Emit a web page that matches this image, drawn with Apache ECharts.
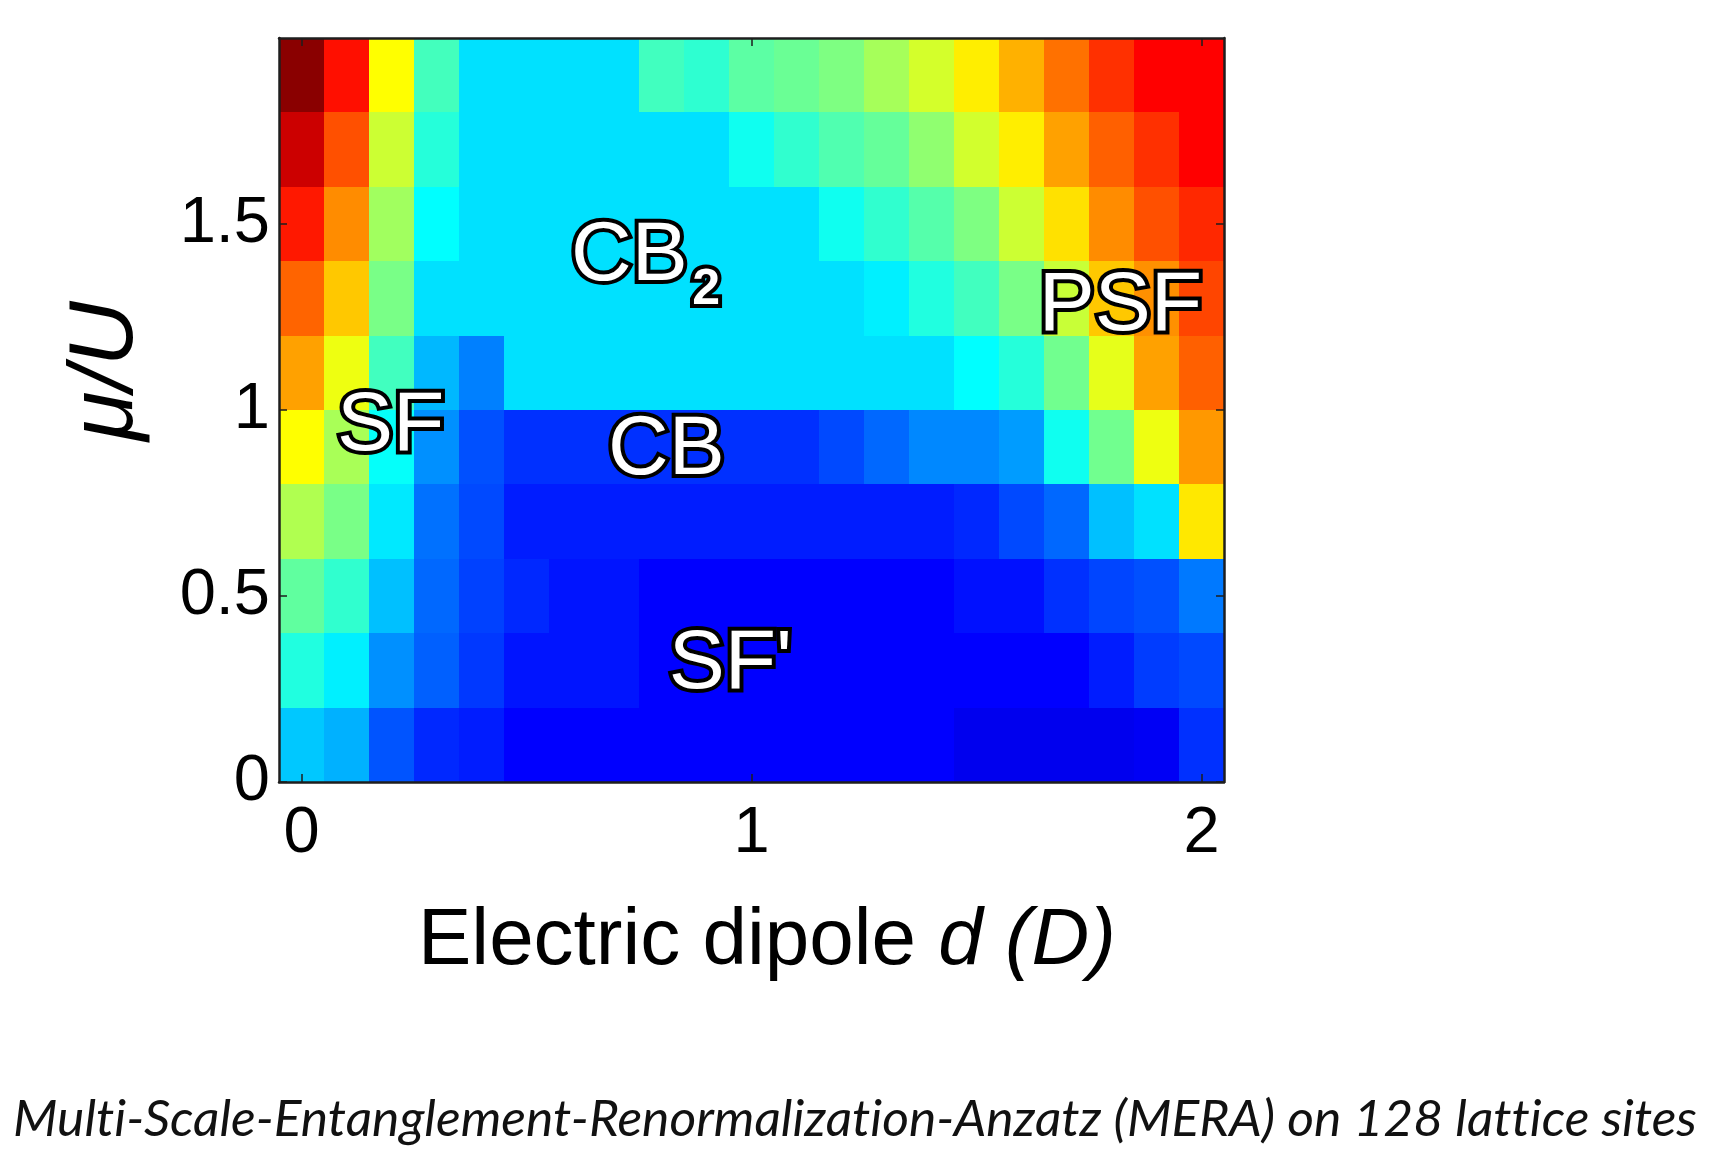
<!DOCTYPE html>
<html>
<head>
<meta charset="utf-8">
<script src="https://cdn.jsdelivr.net/npm/echarts@6/dist/echarts.min.js"></script>
<style>
  html, body { margin: 0; padding: 0; background: #ffffff; }
  #chart { width: 1714px; height: 1149px; }
</style>
</head>
<body>
<div id="chart"></div>
<script>
// Electric dipole d (D): one column per value
const dipole = [0, 0.1, 0.2, 0.3, 0.4, 0.5, 0.6, 0.7, 0.8, 0.9, 1.0,
                1.1, 1.2, 1.3, 1.4, 1.5, 1.6, 1.7, 1.8, 1.9, 2.0];
// Chemical potential μ/U at the centre of each row
const muRows = [0.1, 0.3, 0.5, 0.7, 0.9, 1.1, 1.3, 1.5, 1.7, 1.9];

// Order parameter (normalised 0..1) along d for each μ/U row
const mu01 = [0.321, 0.298, 0.207, 0.164, 0.152, 0.125, 0.125, 0.125, 0.125, 0.125, 0.125, 0.125, 0.125, 0.125, 0.125, 0.108, 0.108, 0.108, 0.108, 0.115, 0.172];
const mu03 = [0.406, 0.360, 0.266, 0.219, 0.180, 0.145, 0.145, 0.145, 0.125, 0.125, 0.125, 0.125, 0.125, 0.125, 0.125, 0.125, 0.125, 0.125, 0.152, 0.184, 0.196];
const mu05 = [0.469, 0.422, 0.313, 0.227, 0.188, 0.164, 0.145, 0.145, 0.125, 0.125, 0.125, 0.125, 0.125, 0.125, 0.125, 0.141, 0.141, 0.172, 0.192, 0.203, 0.243];
const mu07 = [0.547, 0.493, 0.353, 0.235, 0.196, 0.152, 0.152, 0.152, 0.152, 0.152, 0.152, 0.152, 0.152, 0.152, 0.152, 0.164, 0.196, 0.227, 0.313, 0.345, 0.648];
const mu09 = [0.625, 0.540, 0.380, 0.266, 0.203, 0.172, 0.172, 0.172, 0.172, 0.172, 0.172, 0.172, 0.196, 0.227, 0.258, 0.258, 0.278, 0.390, 0.485, 0.608, 0.726];
const mu11 = [0.718, 0.608, 0.438, 0.305, 0.250, 0.345, 0.345, 0.345, 0.345, 0.345, 0.345, 0.345, 0.345, 0.345, 0.345, 0.375, 0.411, 0.485, 0.600, 0.718, 0.781];
const mu13 = [0.777, 0.679, 0.493, 0.345, 0.345, 0.345, 0.345, 0.345, 0.345, 0.345, 0.345, 0.345, 0.345, 0.360, 0.406, 0.438, 0.493, 0.571, 0.679, 0.734, 0.808];
const mu15 = [0.852, 0.738, 0.532, 0.375, 0.345, 0.345, 0.345, 0.345, 0.345, 0.345, 0.345, 0.345, 0.390, 0.422, 0.458, 0.498, 0.575, 0.655, 0.738, 0.797, 0.836];
const mu17 = [0.925, 0.797, 0.575, 0.411, 0.345, 0.345, 0.345, 0.345, 0.345, 0.345, 0.390, 0.422, 0.453, 0.474, 0.516, 0.581, 0.642, 0.718, 0.781, 0.828, 0.875];
const mu19 = [0.990, 0.860, 0.625, 0.440, 0.345, 0.345, 0.345, 0.345, 0.438, 0.420, 0.465, 0.479, 0.498, 0.537, 0.583, 0.642, 0.702, 0.765, 0.828, 0.875, 0.875];
const rowValues = [mu01, mu03, mu05, mu07, mu09, mu11, mu13, mu15, mu17, mu19];

// Tick labels
const dipoleTicks = [0, 1, 2];
const muTicks = [0, 0.5, 1, 1.5];

// Phase names and where they sit in (d, μ/U)
const phaseNames = ['SF', 'CB', "SF'", 'PSF', 'CB'];
const phaseD = [0.198, 0.811, 0.953, 1.820, 0.7285];
const phaseMu = [0.956, 0.889, 0.315, 1.276, 1.412];
const subscriptText = ['2'];
const subscriptD = [0.899];
const subscriptMu = [1.322];

// Jet colour map
const jet = ['#000080', '#0000ff', '#0080ff', '#00ffff', '#80ff80',
             '#ffff00', '#ff8000', '#ff0000', '#800000'];

const cells = [];
muRows.forEach((mu, r) => {
  dipole.forEach((d, c) => cells.push([d, mu, rowValues[r][c]]));
});

const halfW = (dipole[1] - dipole[0]) / 2;
const halfH = (muRows[1] - muRows[0]) / 2;

function renderCell(params, api) {
  const d = api.value(0), mu = api.value(1);
  const a = api.coord([d - halfW, mu + halfH]);
  const b = api.coord([d + halfW, mu - halfH]);
  const x0 = Math.round(a[0]), y0 = Math.round(a[1]);
  const x1 = Math.round(b[0]), y1 = Math.round(b[1]);
  return {
    type: 'rect',
    shape: { x: x0, y: y0, width: x1 - x0, height: y1 - y0 },
    style: { fill: api.visual('color') }
  };
}

const outlinedFont = '"Liberation Sans", Arial, sans-serif';
function makeLabelRenderer(texts, font) {
  return function (params, api) {
    const p = api.coord([api.value(0), api.value(1)]);
    return {
      type: 'text',
      x: p[0], y: p[1],
      style: {
        text: texts[params.dataIndex],
        font: font,
        fill: '#ffffff',
        stroke: '#000000',
        lineWidth: 8,
        strokeFirst: true,
        align: 'center',
        verticalAlign: 'middle'
      }
    };
  };
}

// Caption; zero-width non-joiners keep "ti"/"tt" as separate letters
const captionText = 'Multi-Scale-Entanglement-Renormalization-Anzatz (MERA) on 128 lattice sites';
const captionDrawn = captionText.replace(/t(?=[it])/g, 't\u200C');
const captionFont = 'italic 50px Lato, "Open Sans", sans-serif';
const measureCtx = document.createElement('canvas').getContext('2d');
measureCtx.font = captionFont;
const captionScale = 1684 / measureCtx.measureText(captionDrawn).width;

const axisLineStyle = { color: '#1e1e1e', width: 2.5 };
const tickStyle = { color: '#1e1e1e', width: 1.5 };
const tickFont = { fontFamily: '"Liberation Sans", Arial, sans-serif', fontSize: 65, color: '#000' };

const chart = echarts.init(document.getElementById('chart'), null, { renderer: 'canvas' });
chart.setOption({
  animation: false,
  backgroundColor: '#ffffff',
  grid: { left: 279, right: 490, top: 38, bottom: 367, containLabel: false, outerBoundsMode: 'none' },
  xAxis: [
    {
      type: 'value', position: 'bottom', min: -0.05, max: 2.05, z: 10,
      axisLine: { show: true, onZero: false, lineStyle: axisLineStyle },
      axisTick: { show: true, inside: true, length: 8, customValues: dipoleTicks, lineStyle: tickStyle },
      axisLabel: Object.assign({ margin: 20, customValues: dipoleTicks, formatter: v => String(v) }, tickFont),
      splitLine: { show: false }
    },
    {
      type: 'value', position: 'top', min: -0.05, max: 2.05, z: 10,
      axisLine: { show: true, onZero: false, lineStyle: axisLineStyle },
      axisTick: { show: true, inside: true, length: 8, customValues: dipoleTicks, lineStyle: tickStyle },
      axisLabel: { show: false },
      splitLine: { show: false }
    }
  ],
  yAxis: [
    {
      type: 'value', position: 'left', min: 0, max: 2, interval: 0.5, z: 10,
      axisLine: { show: true, onZero: false, lineStyle: axisLineStyle },
      axisTick: { show: true, inside: true, length: 8, customValues: muTicks, lineStyle: tickStyle },
      axisLabel: Object.assign({ margin: 9, customValues: muTicks, formatter: v => String(v) }, tickFont),
      splitLine: { show: false }
    },
    {
      type: 'value', position: 'right', min: 0, max: 2, interval: 0.5, z: 10,
      axisLine: { show: true, onZero: false, lineStyle: axisLineStyle },
      axisTick: { show: true, inside: true, length: 8, customValues: muTicks, lineStyle: tickStyle },
      axisLabel: { show: false },
      splitLine: { show: false }
    }
  ],
  visualMap: {
    type: 'continuous', show: false, min: 0, max: 1, dimension: 2, seriesIndex: 0,
    inRange: { color: jet }
  },
  series: [
    {
      type: 'custom', name: 'order', xAxisIndex: 0, yAxisIndex: 0,
      renderItem: renderCell, data: cells, z: 2
    },
    {
      type: 'custom', name: 'phases', xAxisIndex: 0, yAxisIndex: 0,
      renderItem: makeLabelRenderer(phaseNames, '84px ' + outlinedFont),
      data: phaseNames.map((n, i) => [phaseD[i], phaseMu[i]]), z: 20
    },
    {
      type: 'custom', name: 'subscripts', xAxisIndex: 0, yAxisIndex: 0,
      renderItem: makeLabelRenderer(subscriptText, 'bold 50px ' + outlinedFont),
      data: subscriptText.map((n, i) => [subscriptD[i], subscriptMu[i]]), z: 20
    }
  ],
  graphic: [
    {
      type: 'text', x: 107, y: 371, rotation: Math.PI / 2,
      style: {
        text: 'μ/U', font: 'italic 90px "Liberation Sans", Arial, sans-serif',
        fill: '#000', align: 'center', verticalAlign: 'middle'
      }
    },
    {
      type: 'text', x: 767, y: 942,
      style: {
        text: 'Electric dipole {i|d (D)}',
        font: '80px "Liberation Sans", Arial, sans-serif',
        fill: '#000', align: 'center', verticalAlign: 'middle',
        rich: { i: { fontStyle: 'italic', fontSize: 80, fontFamily: '"Liberation Sans", Arial, sans-serif', fill: '#000' } }
      }
    },
    {
      type: 'text', x: 13, y: 1120, scaleX: captionScale,
      style: {
        text: captionDrawn, font: captionFont,
        fill: '#111', align: 'left', verticalAlign: 'middle'
      }
    }
  ]
});
</script>
</body>
</html>
